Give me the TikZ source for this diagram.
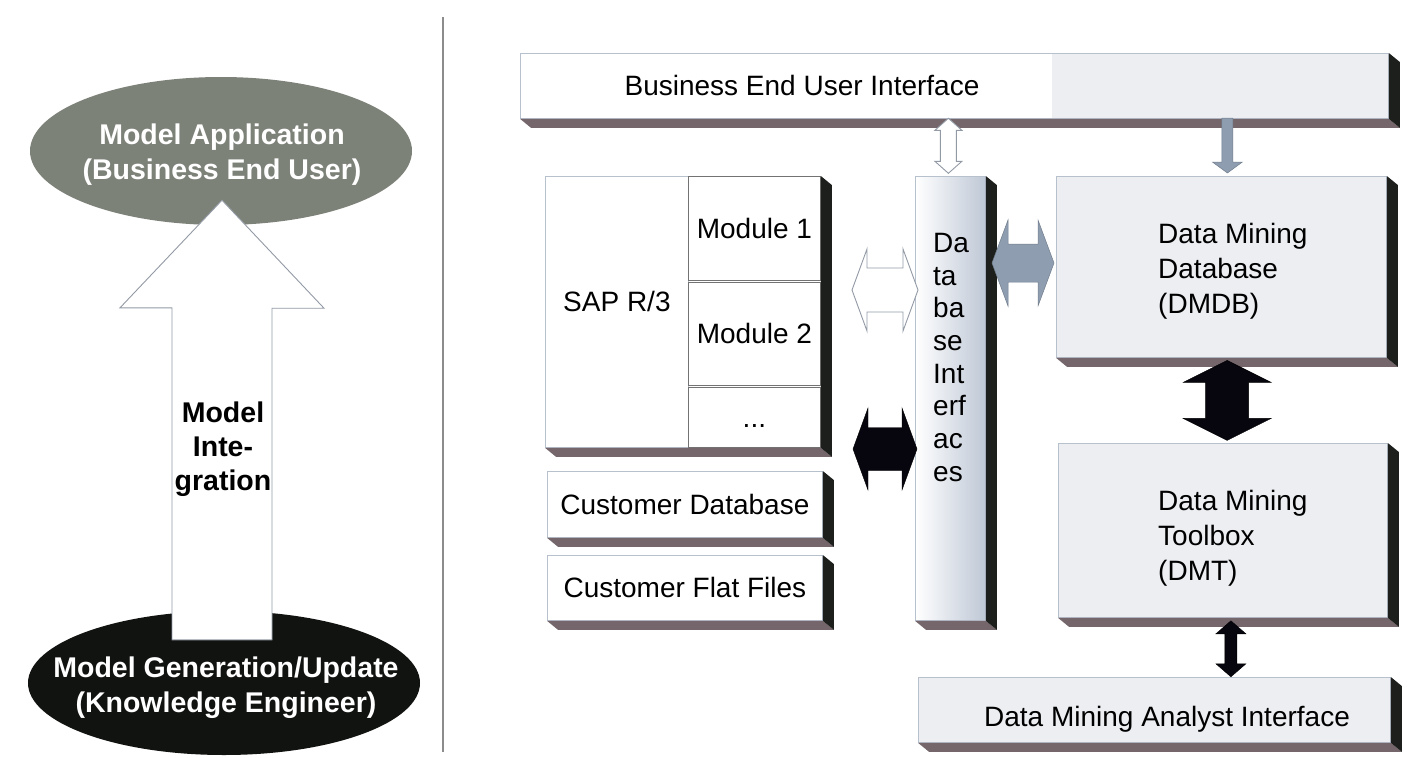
\documentclass[tikz,border=0pt]{standalone}
\usepackage{fontspec}
\setmainfont{Liberation Sans}
\usetikzlibrary{shapes.geometric,calc}

\definecolor{appgray}{HTML}{7D8279}
\definecolor{genblack}{HTML}{111310}
\definecolor{panel}{HTML}{ECEEF2}
\definecolor{edge}{HTML}{B7C1CE}
\definecolor{bottomface}{HTML}{74666A}
\definecolor{sideface}{HTML}{1C1F1B}
\definecolor{dbiblue}{HTML}{BFC8D6}
\definecolor{linkgray}{HTML}{8E9DB0}
\definecolor{linkblack}{HTML}{07060F}

\tikzset{
	box/.style={draw=edge, line width=0.8pt, fill=white,
		inner sep=0pt, anchor=north west},
	greybox/.style={box, fill=panel},
	blob/.style={shape=ellipse, inner sep=0pt},
	blobtext/.style={text=white, align=center,
		font=\fontsize{28.5}{35}\selectfont\bfseries},
	whitelink/.style={draw=edge!80!black, fill=white, line width=0.9pt},
	blacklink/.style={fill=linkblack},
	greylink/.style={fill=linkgray, draw=linkgray!80!black, line width=0.5pt},
	stacked/.style={anchor=north west, align=left, inner sep=0pt}
}

% extruded bottom and right faces of a box (or a row of boxes)
\newcommand{\slabsides}[2]{%
	\fill [bottomface] (#1.south west) -- (#2.south east) -- ++(11,9)
		-- ($(#1.south west)+(11,9)$) -- cycle;
	\fill [sideface] (#2.east |- #1.north) -- ++(11,9)
		-- ($(#2.south east)+(11,9)$) -- (#2.south east) -- cycle;}

% fat double arrow: style, centre, half length, head length, head half width, shaft half width
\newcommand{\dblarrow}[6]{%
	\draw [shift={(#2)}, #1] (-#3,0) -- ({#4-#3},-#5) -- ({#4-#3},-#6)
		-- ({#3-#4},-#6) -- ({#3-#4},-#5) -- (#3,0) -- ({#3-#4},#5)
		-- ({#3-#4},#6) -- ({#4-#3},#6) -- ({#4-#3},#5) -- cycle;}

\begin{document}
\begin{tikzpicture}[x=1pt, y=-1pt, font=\fontsize{28}{35}\selectfont]
	\path [use as bounding box, fill=white] (0,0) rectangle (1409,758);

	% left: model life cycle
	\draw [draw=black!45, line width=1.2pt] (443,17) -- (443,752);

	\draw (221,151) node[blob, fill=appgray,
					 minimum width=382pt,
					 minimum height=148pt](appl){};
	\draw (222,155) node[blobtext](appltext){Model Application\\(Business End User)};
	\draw (224,683) node[blob, fill=genblack,
					 minimum width=392pt,
					 minimum height=144pt](gen){};
	\draw (226,688) node[blobtext](gentext){Model Generation/Update\\(Knowledge Engineer)};

	\coordinate (integtip) at ($(appl.south)+(1,-25)$);
	\coordinate (integfoot) at ($(gen.north)+(-2,29)$);
	\draw [whitelink] (integtip) -- ++(102,108) -- ++(-52,0)
		-- ($(integfoot)+(50,0)$) -- ++(-100,0) -- ++(0,-332)
		-- ++(-52,0) -- cycle;
	\draw (223,449) node[align=center,
					 font=\fontsize{28.5}{34}\selectfont\bfseries](integ){Model\\Inte-\\gration};

	% right: system architecture
	\draw (520,53) node[box, minimum width=868pt, minimum height=65pt](bui){};
	\fill [panel] ($(bui.north west)+(532,0)$) rectangle (bui.south east);
	\draw [draw=edge, line width=0.8pt] (bui.north west) rectangle (bui.south east);
	\draw (802,85) node(buitext){Business End User Interface};

	\draw (545,176) node[box, minimum width=143pt, minimum height=271pt](sap){};
	\draw (sap.center) ++(0,-10) node(saptext){SAP R/3};
	\draw (688,176) node[box, draw=black!55, minimum width=132pt,
					 minimum height=104pt](mod1){Module 1};
	\draw (688,282) node[box, draw=black!55, minimum width=132pt,
					 minimum height=103pt](mod2){Module 2};
	\draw (688,387) node[box, draw=black!55, minimum width=132pt,
					 minimum height=60pt](moddots){\vphantom{M}...};
	\draw (547,471) node[box, minimum width=275pt, minimum height=66pt](custdb){Customer Database};
	\draw (547,555) node[box, minimum width=275pt, minimum height=65pt](flat){Customer Flat Files};

	\draw (915,176) node[box, left color=white, right color=dbiblue,
					 minimum width=70pt, minimum height=444pt](dbi){};
	\draw (933,233) node[stacked,
					 font=\fontsize{28}{32.7}\selectfont](dbitext){Da\\ta\\ba\\se\\Int\\erf\\ac\\es};

	\draw (1056,176) node[greybox, minimum width=330pt, minimum height=181pt](dmdb){};
	\draw (1158,223) node[stacked](dmdbtext){Data Mining\\Database\\(DMDB)};
	\draw (1058,443) node[greybox, minimum width=329pt, minimum height=174pt](dmt){};
	\draw (1158,490) node[stacked](dmttext){Data Mining\\Toolbox\\(DMT)};
	\draw (918,677) node[greybox, minimum width=472pt, minimum height=65pt](analyst){};
	\draw (1167,719) node(analysttext){Data Mining Analyst Interface};

	\slabsides{bui}{bui}
	\slabsides{sap}{moddots}
	\slabsides{custdb}{custdb}
	\slabsides{flat}{flat}
	\slabsides{dbi}{dbi}
	\slabsides{dmdb}{dmdb}
	\slabsides{dmt}{dmt}
	\slabsides{analyst}{analyst}

	% data flow between the parts
	\coordinate (busdbi) at ($(bui.south -| dbi.center)+(-2,27)$);
	\coordinate (busdm) at ($(dmdb.north)+(6,-3)$);
	\coordinate (sapdbi) at (885,290);
	\coordinate (custdbi) at (885,449);
	\coordinate (dbidm) at (1023,263);
	\coordinate (dmdt) at ($(dmdb.south)!.5!(dmt.north)+(5,0)$);
	\coordinate (dtan) at ($(dmt.south)+(8,31)$);

	\dblarrow{whitelink, rotate=90}{busdbi}{27.5}{12}{13.5}{8}
	\draw [greylink] (busdm) -- ++(-15,-11) -- ++(9.5,0) -- ++(0,-44)
		-- ++(11,0) -- ++(0,44) -- ++(9.5,0) -- cycle;
	\dblarrow{whitelink}{sapdbi}{33}{15}{41}{22}
	\dblarrow{blacklink}{custdbi}{32}{15}{41}{21.5}
	\dblarrow{greylink}{dbidm}{31}{16}{43}{19}
	\dblarrow{blacklink, rotate=90}{dmdt}{40}{22}{44}{21.5}
	\dblarrow{blacklink, rotate=90}{dtan}{28}{13}{15}{6}
\end{tikzpicture}
\end{document}
